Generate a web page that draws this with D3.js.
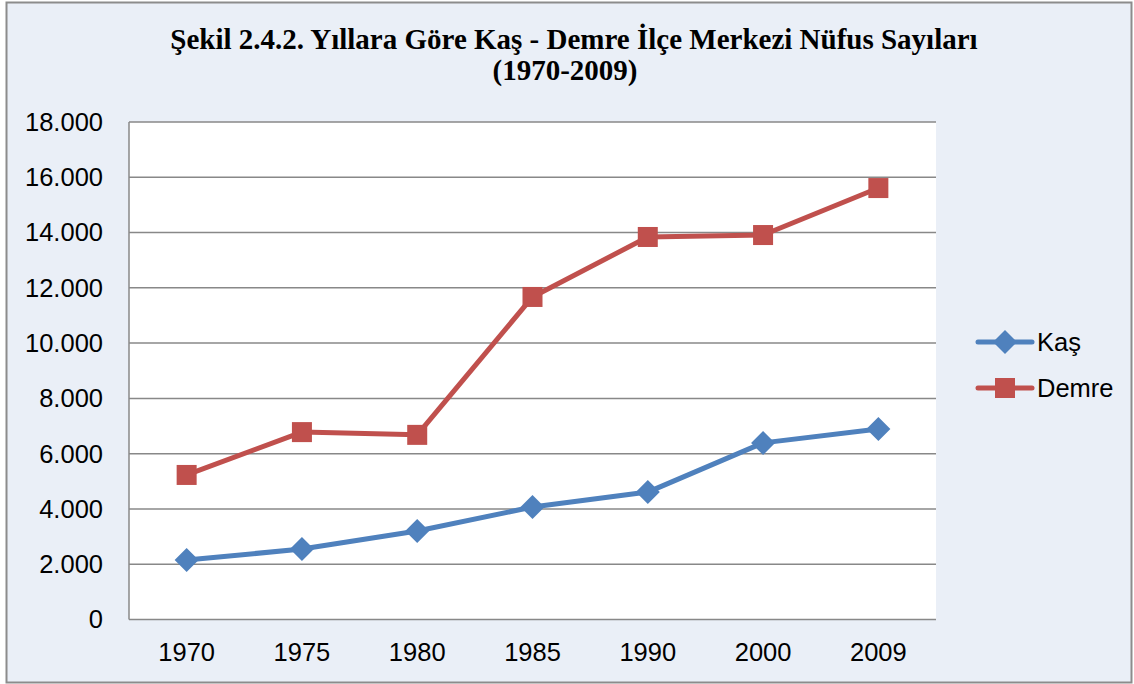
<!DOCTYPE html>
<html>
<head>
<meta charset="utf-8">
<title>Kaş - Demre</title>
<script src="https://d3js.org/d3.v7.min.js"></script>
<style>
  body { margin: 0; background: #fff; }
</style>
</head>
<body>
<script>
// data
var years = ["1970", "1975", "1980", "1985", "1990", "2000", "2009"];
var kas = [2150, 2550, 3200, 4070, 4610, 6390, 6890];
var demre = [5230, 6780, 6680, 11670, 13840, 13910, 15610];
var yTicks = [0, 2000, 4000, 6000, 8000, 10000, 12000, 14000, 16000, 18000];
var titleLines = ["Şekil 2.4.2. Yıllara Göre Kaş - Demre İlçe Merkezi Nüfus Sayıları", "(1970-2009)"];

var W = 1134, H = 684;
var pLeft = 129, pRight = 936, pTop = 122, pBottom = 619.5;

var svg = d3.select("body").append("svg")
  .attr("width", W)
  .attr("height", H);

svg.append("rect")
  .attr("x", 6.5).attr("y", 2.5)
  .attr("width", W - 9).attr("height", H - 4)
  .attr("fill", "#eaeff7")
  .attr("stroke", "#8c8c8c")
  .attr("stroke-width", 2);

svg.append("rect")
  .attr("x", pLeft).attr("y", pTop)
  .attr("width", pRight - pLeft).attr("height", pBottom - pTop)
  .attr("fill", "#fff");

var x = d3.scaleBand().domain(years).range([pLeft, pRight]).padding(0);
var y = d3.scaleLinear().domain([0, 18000]).range([pBottom, pTop]);

// gridlines
svg.selectAll("line.grid")
  .data(yTicks)
  .enter()
  .append("line")
  .attr("class", "grid")
  .attr("x1", pLeft).attr("x2", pRight)
  .attr("y1", function(d){ return y(d); })
  .attr("y2", function(d){ return y(d); })
  .attr("stroke", "#888")
  .attr("stroke-width", 1.5);

// left axis line
svg.append("line")
  .attr("x1", pLeft).attr("x2", pLeft)
  .attr("y1", pTop).attr("y2", pBottom)
  .attr("stroke", "#888")
  .attr("stroke-width", 1.5);

var fmt = function(d){ return d === 0 ? "0" : d3.format(",")(d).replace(/,/g, "."); };

svg.selectAll("text.ylab")
  .data(yTicks)
  .enter()
  .append("text")
  .attr("class", "ylab")
  .attr("x", 103)
  .attr("y", function(d){ return y(d); })
  .attr("dy", "0.35em")
  .attr("text-anchor", "end")
  .attr("font-family", "Liberation Sans, Arial, sans-serif")
  .attr("font-size", 25.5)
  .text(fmt);

svg.selectAll("text.xlab")
  .data(years)
  .enter()
  .append("text")
  .attr("class", "xlab")
  .attr("x", function(d){ return x(d) + x.bandwidth() / 2; })
  .attr("y", 661)
  .attr("text-anchor", "middle")
  .attr("font-family", "Liberation Sans, Arial, sans-serif")
  .attr("font-size", 25.5)
  .text(function(d){ return d; });

svg.selectAll("text.title")
  .data(titleLines)
  .enter()
  .append("text")
  .attr("class", "title")
  .attr("x", function(d, i){ return i === 0 ? 574 : 565; })
  .attr("y", function(d, i){ return 49 + i * 31; })
  .attr("text-anchor", "middle")
  .attr("font-family", "Liberation Serif, Times New Roman, serif")
  .attr("font-weight", "bold")
  .attr("font-size", 29)
  .text(function(d){ return d; });

var series = [
  { name: "Kaş", values: kas, color: "#4f81bd", marker: "diamond" },
  { name: "Demre", values: demre, color: "#c0504d", marker: "square" }
];

var line = d3.line()
  .x(function(d, i){ return x(years[i]) + x.bandwidth() / 2; })
  .y(function(d){ return y(d); });

function marker(g, type, color) {
  if (type === "square") {
    g.append("rect")
      .attr("x", -10).attr("y", -10)
      .attr("width", 20).attr("height", 20)
      .attr("fill", color);
  } else {
    g.append("path")
      .attr("d", "M0,-12L12,0L0,12L-12,0Z")
      .attr("fill", color);
  }
}

series.forEach(function(s){
  svg.append("path")
    .datum(s.values)
    .attr("d", line)
    .attr("fill", "none")
    .attr("stroke", s.color)
    .attr("stroke-width", 5)
    .attr("stroke-linejoin", "round");

  svg.selectAll("g.m-" + s.marker)
    .data(s.values)
    .enter()
    .append("g")
    .attr("class", "m-" + s.marker)
    .attr("transform", function(d, i){
      return "translate(" + (x(years[i]) + x.bandwidth() / 2) + "," + y(d) + ")";
    })
    .each(function(){ marker(d3.select(this), s.marker, s.color); });
});

// legend
var legend = svg.selectAll("g.legend")
  .data(series)
  .enter()
  .append("g")
  .attr("class", "legend")
  .attr("transform", function(d, i){ return "translate(978," + (342 + i * 46) + ")"; });

legend.append("line")
  .attr("x1", 0).attr("x2", 54)
  .attr("stroke", function(d){ return d.color; })
  .attr("stroke-width", 5)
  .attr("stroke-linecap", "round");

legend.each(function(d){
  var g = d3.select(this).append("g").attr("transform", "translate(27,0)");
  marker(g, d.marker, d.color);
});

legend.append("text")
  .attr("x", 59)
  .attr("dy", "0.35em")
  .attr("font-family", "Liberation Sans, Arial, sans-serif")
  .attr("font-size", 25.5)
  .text(function(d){ return d.name; });
</script>
</body>
</html>
